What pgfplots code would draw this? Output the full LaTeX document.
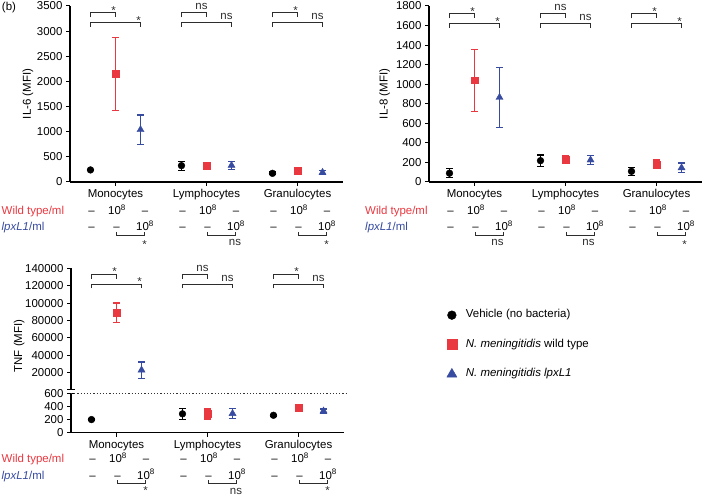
\documentclass[border=0pt]{standalone}
\usepackage{fontspec}
\setmainfont{Liberation Sans}
\usepackage{pgfplots}
\pgfplotsset{compat=1.18}
\definecolor{redc}{RGB}{233,56,64}
\definecolor{bluec}{RGB}{55,75,160}
\definecolor{brkc}{RGB}{45,45,45}
\newcommand{\fs}{\fontsize{11.5}{14}\selectfont}
\tikzset{rowtxt/.style={anchor=base, inner sep=0pt, font=\fs},
         lbl/.style={anchor=base, inner sep=0pt, font=\fs, text=brkc}}
\newcommand{\topbr}[4]{\draw[brkc, line width=0.9bp] (axis cs:#1,#4) -- (axis cs:#1,#3) -- (axis cs:#2,#3) -- (axis cs:#2,#4);}
\newcommand{\topst}[4]{\topbr{#1}{#2}{#3}{#4}\node[lbl] at ([xshift=-2bp,yshift=-1.8bp]axis cs:#2,#3) {*};}
\newcommand{\topns}[4]{\topbr{#1}{#2}{#3}{#4}\node[lbl] at ([xshift=-5bp,yshift=2.6bp]axis cs:#2,#3) {ns};}
% #1 category, #2 label, #3 label baseline shift, #4 label xshift, #5 global raise
\newcommand{\catblock}[5]{%
  \node[rowtxt] at ([xshift=-24bp, yshift=-32.5bp+#5]axis cs:#1,0) {\textendash};
  \node[rowtxt] at ([xshift=1.5bp, yshift=-32.5bp+#5]axis cs:#1,0) {10\textsuperscript{8}};
  \node[rowtxt] at ([xshift=29.5bp, yshift=-32.5bp+#5]axis cs:#1,0) {\textendash};
  \node[rowtxt] at ([xshift=-24bp, yshift=-49bp+#5]axis cs:#1,0) {\textendash};
  \node[rowtxt] at ([xshift=1bp, yshift=-49bp+#5]axis cs:#1,0) {\textendash};
  \node[rowtxt] at ([xshift=29.5bp, yshift=-49bp+#5]axis cs:#1,0) {10\textsuperscript{8}};
  \draw[brkc, line width=0.9bp] ([xshift=1bp, yshift=-50bp+#5]axis cs:#1,0) -- ([xshift=1bp, yshift=-53.5bp+#5]axis cs:#1,0) -- ([xshift=29bp, yshift=-53.5bp+#5]axis cs:#1,0) -- ([xshift=29bp, yshift=-50bp+#5]axis cs:#1,0);
  \node[lbl] at ([xshift=#4, yshift=#3+#5]axis cs:#1,0) {#2};
}
\newcommand{\rowlabels}[2]{%
  \node[anchor=base west, inner sep=0pt, font=\fs, text=redc] at ([xshift=#1, yshift=-32.5bp+#2]rel axis cs:0,0) {Wild type/ml};
  \node[anchor=base west, inner sep=0pt, font=\fs, text=bluec] at ([xshift=#1, yshift=-49bp+#2]rel axis cs:0,0) {\textit{lpxL1}/ml};
}
\pgfplotsset{
  panel/.style={
    scale only axis, width=273bp, anchor=south west, clip=false,
    xmin=0.5, xmax=3.5,
    axis x line*=bottom, axis y line*=left,
    axis line style={line width=1.2bp, black, -},
    tick align=outside, major tick length=4bp,
    every tick/.style={line width=1bp, black},
    xtick={1,2,3}, xticklabels={Monocytes,Lymphocytes,Granulocytes},
    tick label style={font=\fs},
    label style={font=\fs},
    /pgf/number format/assume math mode=true,
    /pgf/number format/fixed,
    /pgf/number format/1000 sep={},
    scaled y ticks=false,
  },
  vehstyle/.style={only marks, mark=*, mark size=3.4bp, color=black,
    error bars/y dir=both, error bars/y explicit,
    error bars/error bar style={line width=1.2bp, black},
    error bars/error mark options={rotate=90, mark size=3.3bp, line width=1.2bp, black},
    legend image post style={mark size=4.4bp}},
  wtstyle/.style={only marks, mark=square*, mark size=3.4bp, color=redc,
    error bars/y dir=both, error bars/y explicit,
    error bars/error bar style={line width=1.2bp, redc},
    error bars/error mark options={rotate=90, mark size=3.3bp, line width=1.2bp, redc},
    legend image post style={mark size=5bp}},
  lpxstyle/.style={only marks, mark=triangle*, mark size=4.1bp, color=bluec,
    error bars/y dir=both, error bars/y explicit,
    error bars/error bar style={line width=1.2bp, bluec},
    error bars/error mark options={rotate=90, mark size=3.3bp, line width=1.2bp, bluec},
    legend image post style={mark size=5.8bp}},
}
\begin{document}
\begin{tikzpicture}[x=1bp,y=1bp]
\useasboundingbox (0,0) rectangle (704,496);

% ---------------- IL-6 ----------------
\begin{axis}[panel, at={(70bp,314bp)}, height=176bp,
  ymin=0, ymax=3500, ytick={0,500,...,3500},
  ylabel={IL-6 (MFI)}, ylabel style={at={(axis description cs:-0.154,0.5)}, anchor=center}]
\addplot[vehstyle] coordinates {(0.725,240) +- (0,15) (1.725,325) +- (0,90) (2.725,172) +- (0,25)};
\addplot[wtstyle] coordinates {(1,2148) +- (0,730) (2,325) +- (0,30) (3,225) +- (0,25)};
\addplot[lpxstyle] coordinates {(1.275,1040) +- (0,292) (2.275,330) +- (0,80) (3.275,190) +- (0,40)};
\topst{0.725}{1}{3375}{3276}
\topst{0.725}{1.275}{3176}{3086}
\topns{1.725}{2}{3375}{3276}
\topns{1.725}{2.275}{3176}{3086}
\topst{2.725}{3}{3375}{3276}
\topns{2.725}{3.275}{3176}{3086}
\catblock{1}{*}{-67bp}{29bp}{0bp}
\catblock{2}{ns}{-64bp}{28.5bp}{0bp}
\catblock{3}{*}{-67bp}{29bp}{0bp}
\rowlabels{-68.5bp}{0bp}
\node[font=\fs, inner sep=0pt] at ([xshift=-61bp, yshift=-1.5bp]rel axis cs:0,1) {(b)};
\end{axis}

% ---------------- IL-8 ----------------
\begin{axis}[panel, at={(429bp,314bp)}, height=176bp,
  ymin=0, ymax=1800, ytick={0,200,...,1800},
  ylabel={IL-8 (MFI)}, ylabel style={at={(axis description cs:-0.162,0.5)}, anchor=center}]
\addplot[vehstyle] coordinates {(0.725,90) +- (0,45) (1.725,218) +- (0,58) (2.725,109) +- (0,40)};
\addplot[wtstyle] coordinates {(1,1041) +- (0,318) (2,228) +- (0,40) (3,180) +- (0,45)};
\addplot[lpxstyle] coordinates {(1.275,865) +- (0,305) (2.275,225) +- (0,50) (3.275,145) +- (0,50)};
\topst{0.725}{1}{1725}{1674}
\topst{0.725}{1.275}{1623}{1577}
\topns{1.725}{2}{1725}{1674}
\topns{1.725}{2.275}{1623}{1577}
\topst{2.725}{3}{1725}{1674}
\topst{2.725}{3.275}{1623}{1577}
\catblock{1}{ns}{-64bp}{23bp}{0bp}
\catblock{2}{ns}{-64bp}{23bp}{0bp}
\catblock{3}{*}{-67bp}{28bp}{0bp}
\rowlabels{-64bp}{0bp}
\end{axis}

% ---------------- TNF upper ----------------
\begin{axis}[panel, at={(71bp,106.5bp)}, height=121.2bp,
  axis x line=none, xtick=\empty,
  ymin=600, ymax=140000, ytick={20000,40000,60000,80000,100000,120000,140000},
  yticklabels={20000,40000,60000,80000,100000,120000,140000},
  ylabel={TNF (MFI)}, ylabel style={at={(axis description cs:-0.19,0.359)}, anchor=center}]
\addplot[wtstyle] coordinates {(1,88700) +- (0,11300)};
\addplot[lpxstyle] coordinates {(1.275,22930) +- (0,9370)};
\topst{0.725}{1}{133445}{127700}
\topst{0.725}{1.275}{121945}{116770}
\topns{1.725}{2}{133445}{127700}
\topns{1.725}{2.275}{121945}{116770}
\topst{2.725}{3}{133445}{127700}
\topns{2.725}{3.275}{121945}{116770}
\draw[line width=1bp] ([xshift=-4bp]axis cs:0.5,600) -- ([xshift=4bp]axis cs:0.5,600);
\end{axis}

% ---------------- TNF lower ----------------
\begin{axis}[panel, at={(71bp,63.3bp)}, height=39.4bp,
  ymin=0, ymax=600, ytick={0,200,400,600},
  legend style={at={(1.376,3.172)}, anchor=north west, draw=none, fill=none, inner sep=0pt,
    row sep=15bp, font=\fs, nodes={text height=8bp, text depth=2.5bp, inner sep=2bp},
    /tikz/every odd column/.append style={column sep=7bp}},
  legend cell align=left]
\addplot[vehstyle] coordinates {(0.725,200) +- (0,10) (1.725,287) +- (0,87) (2.725,265) +- (0,15)};
\addlegendentry{Vehicle (no bacteria)}
\addplot[wtstyle] coordinates {(2,285) +- (0,75) (3,380) +- (0,10)};
\addlegendentry{\textit{N. meningitidis} wild type}
\addplot[lpxstyle] coordinates {(2.275,292) +- (0,78) (3.275,330) +- (0,30)};
\addlegendentry{\textit{N. meningitidis lpxL1}}
\draw[line width=1bp] ([xshift=-4bp]axis cs:0.5,600) -- ([xshift=4bp]axis cs:0.5,600);
\draw[dotted, line width=1.2bp, black!80] (axis cs:0.5,600) -- ([xshift=4bp]axis cs:3.5,600);
\catblock{1}{*}{-64.5bp}{29bp}{2.5bp}
\catblock{2}{ns}{-64bp}{28.5bp}{2.5bp}
\catblock{3}{*}{-64.5bp}{29bp}{2.5bp}
\rowlabels{-69.5bp}{2.5bp}
\end{axis}
\end{tikzpicture}
\end{document}
